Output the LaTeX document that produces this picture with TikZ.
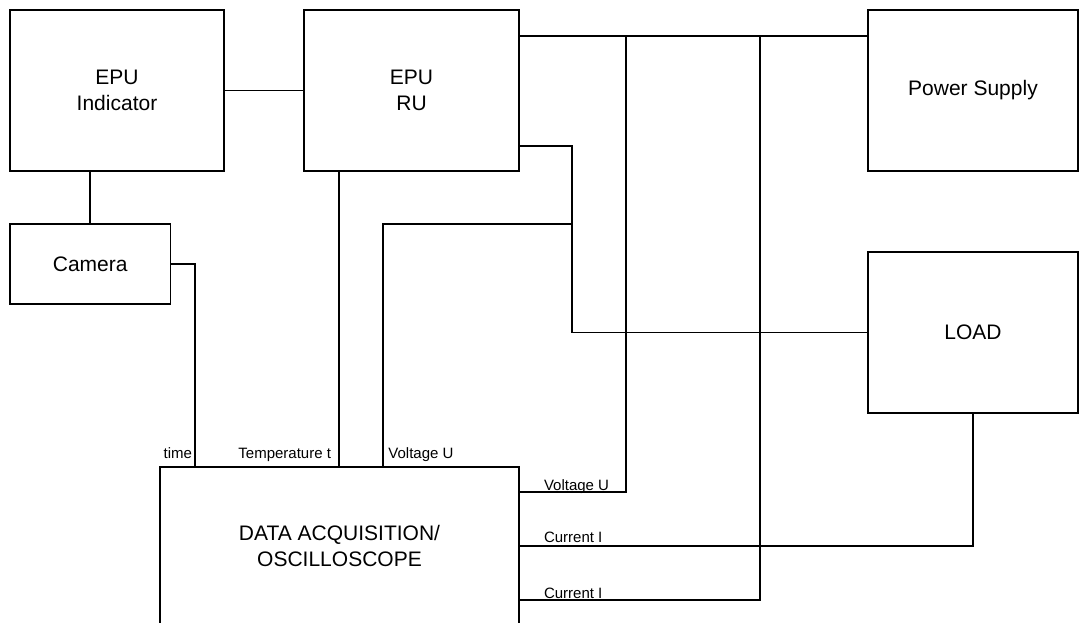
\documentclass[tikz,border=0pt]{standalone}
\usepackage{fontspec}
\setmainfont{Liberation Sans}
\usetikzlibrary{calc}
\tikzset{
  wire/.style={black, line width=1.6pt},
  block/.style={draw=black, line width=1.6pt, inner sep=0pt,
                align=center, font=\fontsize{21}{26}\selectfont},
  siglab/.style={inner sep=0pt, font=\fontsize{15}{18}\selectfont},
}

\begin{document}
\begin{tikzpicture}[x=1pt,y=1pt]
  \path[use as bounding box] (0,0) rectangle (1079,622);

  % blocks
  \node[block, minimum width=214, minimum height=161] (IND) at (117,531.5)
    {EPU\\Indicator};
  \node[block, minimum width=215, minimum height=161] (RU) at (411.5,531.5)
    {EPU\\RU};
  \node[block, minimum width=160.5, minimum height=80] (CAM) at (90.25,358)
    {Camera};
  \node[block, minimum width=210, minimum height=161] (PS) at (973,531.5)
    {Power Supply};
  \node[block, minimum width=210, minimum height=161] (LOAD) at (973,289.5)
    {LOAD};
  \node[block, minimum width=359, minimum height=158] (DAQ) at (339.5,76)
    {DATA ACQUISITION/\\OSCILLOSCOPE};

  % feet of the wires on the acquisition box
  \coordinate (TFOOT) at ([xshift=36]DAQ.north west);
  \coordinate (TEMPFOOT) at ([xshift=36]RU.south west |- DAQ.north);
  \coordinate (VFOOT) at ([xshift=224]DAQ.north west);
  \coordinate (VTAP) at (572,398);
  \coordinate (BUSA) at (626,585);
  \coordinate (BUSB) at (760,585);

  % wires
  \draw[wire] (IND.east) -- (RU.west);
  \draw[wire] (CAM.north) -- (CAM.north |- IND.south);
  \draw[wire] (CAM.east) -| (TFOOT);
  \draw[wire] ([xshift=36]RU.south west) -- (TEMPFOOT);
  \draw[wire] ([yshift=26]RU.south east) -| (VTAP) |- (LOAD.west);
  \draw[wire] (VTAP) -| (VFOOT);
  \draw[wire] ([yshift=-27]RU.north east) -- ([yshift=-27]PS.north west);
  \draw[wire] (BUSA) |- ([yshift=-26]DAQ.north east);
  \draw[wire] (BUSB) |- ([yshift=-134]DAQ.north east);
  \draw[wire] (LOAD.south) |- ([yshift=-80]DAQ.north east);

  % signal labels
  \node[siglab, anchor=base east] (LTIME) at ([xshift=-3,yshift=8]TFOOT) {time};
  \node[siglab, anchor=base east] (LTEMP) at ([xshift=-8,yshift=8]TEMPFOOT) {Temperature t};
  \node[siglab, anchor=base west] (LVOLT) at ([xshift=5,yshift=8]VFOOT) {Voltage U};
  \node[siglab, anchor=base west] (LVOLTB) at ([xshift=24,yshift=-24]DAQ.north east) {Voltage U};
  \node[siglab, anchor=base west] (LCURA) at ([xshift=24,yshift=-76]DAQ.north east) {Current I};
  \node[siglab, anchor=base west] (LCURB) at ([xshift=24,yshift=-132]DAQ.north east) {Current I};
\end{tikzpicture}
\end{document}
